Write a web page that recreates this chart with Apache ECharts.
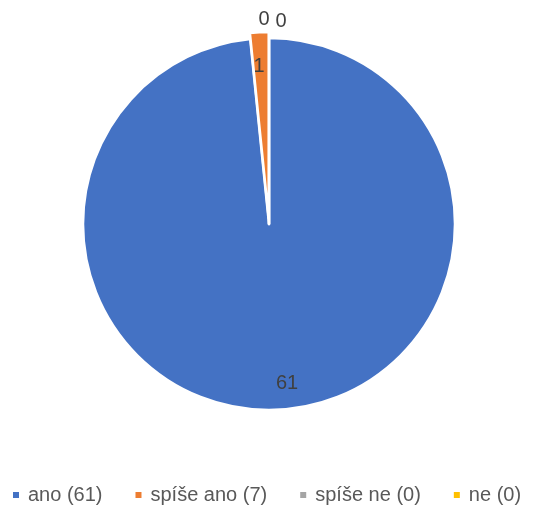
<!DOCTYPE html>
<html><head><meta charset="utf-8">
<script src="https://cdn.jsdelivr.net/npm/echarts@6/dist/echarts.min.js"></script>
<style>html,body{margin:0;padding:0;background:#fff}#c{width:538px;height:509px}</style>
</head><body><div id="c"></div>
<script>
var categories = ['ano', 'spíše ano', 'spíše ne', 'ne'];
var values = [61, 1, 0, 0];
var legendCounts = [61, 7, 0, 0];
var colors = ['#4472C4', '#ED7D31', '#A5A5A5', '#FFC000'];

var chart = echarts.init(document.getElementById('c'));
var R = 186;
var center = [269, 224];
var font = 'Liberation Sans';

var baseData = categories.map(function (n, i) {
  return { name: n, value: values[i], selected: i === 1, itemStyle: { color: colors[i] } };
});
var labelData = categories.map(function (n, i) {
  var d = { name: n, value: values[i] };
  if (values[i] === 0) {
    d.labelLine = { show: false, length: 47, length2: 0 };
  }
  return d;
});
var labelShift = { 0: [5, 2], 1: [3, 0], 2: [0, 1], 3: [17, 3] };

chart.setOption({
  animation: false,
  color: colors,
  legend: {
    top: 480,
    left: 6,
    icon: 'rect',
    itemWidth: 8,
    itemHeight: 8,
    itemGap: 31,
    data: categories,
    formatter: function (name) {
      return name + ' (' + legendCounts[categories.indexOf(name)] + ')';
    },
    textStyle: { color: '#595959', fontSize: 20, fontFamily: font, padding: [0, 0, 0, 3] }
  },
  series: [
    {
      type: 'pie',
      z: 2,
      center: center,
      radius: [0, R],
      startAngle: 90,
      clockwise: true,
      avoidLabelOverlap: false,
      selectedMode: 'single',
      selectedOffset: 6,
      silent: true,
      itemStyle: { borderColor: '#fff', borderWidth: 2.5 },
      label: { show: false },
      labelLine: { show: false },
      data: baseData
    },
    {
      type: 'pie',
      z: 5,
      center: center,
      radius: [0, R * 0.85],
      startAngle: 90,
      clockwise: true,
      avoidLabelOverlap: false,
      silent: true,
      itemStyle: { color: 'rgba(0,0,0,0)', borderWidth: 0 },
      label: {
        show: true,
        position: 'outside',
        formatter: '{c}',
        color: '#404040',
        fontSize: 20,
        fontFamily: font
      },
      labelLine: { show: false, length: 0, length2: 0 },
      labelLayout: function (p) {
        var s = labelShift[p.dataIndex] || [0, 0];
        return { dx: s[0], dy: s[1], align: 'center', verticalAlign: 'middle' };
      },
      data: labelData
    }
  ]
});
</script></body></html>
